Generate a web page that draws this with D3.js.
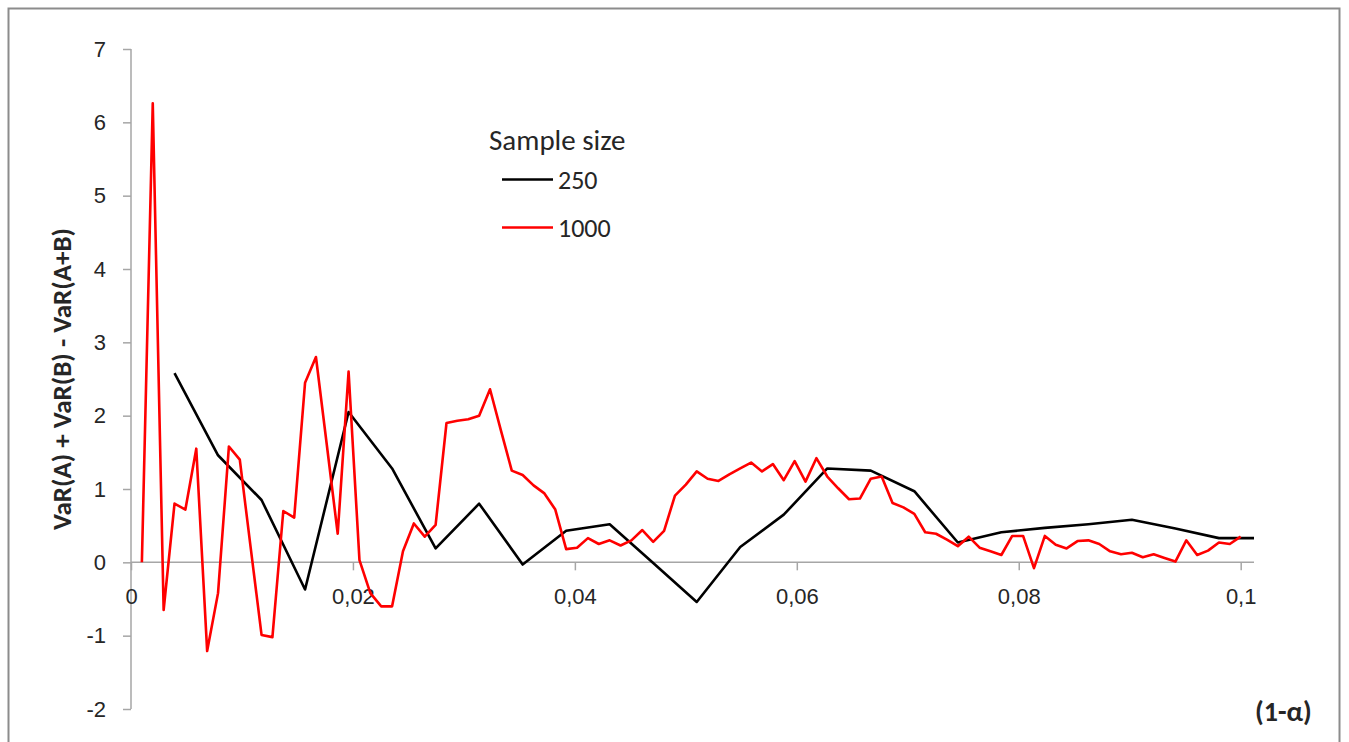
<!DOCTYPE html>
<html>
<head>
<meta charset="utf-8">
<script src="https://cdn.jsdelivr.net/npm/d3@7.9.0/dist/d3.min.js"></script>
<style>
  html, body { margin: 0; padding: 0; background: #fff; }
  svg { display: block; font-family: Carlito, Calibri, Lato, sans-serif; }
</style>
</head>
<body>
<div id="chart"></div>
<script>
// ---------------- data ----------------
const seriesNames = ["250", "1000"];
const seriesColors = ["#000000", "#ff0000"];
const legendTitle = "Sample size";
const yTitle = "VaR(A) + VaR(B) - VaR(A+B)";
const xTitle = "(1-α)";

const xTicks = [0, 0.02, 0.04, 0.06, 0.08, 0.1];
const yTicks = [-2, -1, 0, 1, 2, 3, 4, 5, 6, 7];

// sample size 250: one point per quantile level k/255
const values250 = [
  2.58, 1.46, 0.85, -0.37, 2.05, 1.28, 0.19, 0.80, -0.03, 0.43,
  0.52, -0.01, -0.54, 0.21, 0.65, 1.28, 1.25, 0.97, 0.27, 0.41,
  0.47, 0.52, 0.58, 0.46, 0.33, 0.33
];

// sample size 1000: one point per quantile level k/1020
const values1000 = [
  0.00, 6.26, -0.65, 0.80, 0.72, 1.55, -1.21, -0.42, 1.58, 1.40,
  0.20, -0.99, -1.02, 0.70, 0.61, 2.45, 2.80, 1.60, 0.39, 2.60,
  0.03, -0.42, -0.60, -0.60, 0.15, 0.53, 0.35, 0.51, 1.90, 1.93,
  1.95, 2.00, 2.36, 1.80, 1.25, 1.19, 1.05, 0.94, 0.72, 0.18,
  0.20, 0.33, 0.25, 0.30, 0.23, 0.30, 0.44, 0.28, 0.43, 0.91,
  1.06, 1.24, 1.14, 1.11, 1.20, 1.28, 1.36, 1.24, 1.34, 1.12,
  1.38, 1.10, 1.42, 1.17, 1.01, 0.86, 0.87, 1.14, 1.17, 0.81,
  0.75, 0.66, 0.41, 0.39, 0.31, 0.22, 0.35, 0.20, 0.15, 0.10,
  0.36, 0.36, -0.08, 0.36, 0.24, 0.19, 0.29, 0.30, 0.25, 0.15,
  0.11, 0.13, 0.07, 0.11, 0.06, 0.01, 0.30, 0.10, 0.16, 0.27,
  0.25, 0.35
];

const series = [
  { name: seriesNames[0], color: seriesColors[0], points: values250.map((v, i) => [(i + 1) / 255, v]) },
  { name: seriesNames[1], color: seriesColors[1], points: values1000.map((v, i) => [(i + 1) / 1020, v]) }
];

// ---------------- layout ----------------
const width = 1349, height = 742;
const plot = { left: 131, right: 1254, top: 49, bottom: 709 };
const axisColor = "#a6a6a6";
const textColor = "#262626";

const svg = d3.select("#chart").append("svg")
  .attr("width", width).attr("height", height);

svg.append("rect").attr("width", width).attr("height", height).attr("fill", "#fff");

// chart frame
svg.append("rect")
  .attr("x", 8.5).attr("y", 8.5)
  .attr("width", 1331).attr("height", 760)
  .attr("fill", "none").attr("stroke", "#8c8c8c").attr("stroke-width", 2);

const x = d3.scaleLinear().domain([0, 0.1012]).range([plot.left, plot.right]);
const y = d3.scaleLinear().domain([-2, 7]).range([plot.bottom, plot.top]);

const fmt = d => d === 0 ? "0" : String(+d.toFixed(2)).replace(".", ",");

// ---------------- axes ----------------
const yAxis = svg.append("g")
  .attr("transform", `translate(${plot.left},0)`)
  .call(d3.axisLeft(y).tickValues(yTicks).tickFormat(d => String(d)).tickSize(8).tickPadding(17));

const xAxis = svg.append("g")
  .attr("transform", `translate(0,${y(0)})`)
  .call(d3.axisBottom(x).tickValues(xTicks).tickFormat(fmt).tickSize(8).tickPadding(18));

[yAxis, xAxis].forEach(g => {
  g.select(".domain").attr("stroke", axisColor).attr("stroke-width", 1.5);
  g.selectAll(".tick line").attr("stroke", axisColor).attr("stroke-width", 1.5);
  g.selectAll(".tick text").attr("fill", textColor).attr("font-size", "22px");
});
xAxis.select(".domain").attr("d", `M${plot.left},0H${plot.right}`);
yAxis.select(".domain").attr("d", `M0,${plot.top}V${plot.bottom}`);

// ---------------- lines ----------------
svg.append("clipPath").attr("id", "plot-clip")
  .append("rect")
  .attr("x", plot.left).attr("y", 0)
  .attr("width", plot.right - plot.left).attr("height", height);

const line = d3.line().x(d => x(d[0])).y(d => y(d[1]));

svg.append("g").attr("clip-path", "url(#plot-clip)")
  .selectAll("path").data(series).enter().append("path")
  .attr("d", d => line(d.points))
  .attr("fill", "none")
  .attr("stroke", d => d.color)
  .attr("stroke-width", 2.6)
  .attr("stroke-linejoin", "round");

// ---------------- titles ----------------
svg.append("text")
  .attr("transform", `translate(71,${(plot.top + plot.bottom) / 2}) rotate(-90)`)
  .attr("text-anchor", "middle")
  .attr("font-size", "27px").attr("font-weight", "bold")
  .attr("fill", textColor)
  .text(yTitle);

svg.append("text")
  .attr("x", 1255).attr("y", 721)
  .attr("font-size", "28px").attr("font-weight", "bold")
  .attr("fill", textColor)
  .text(xTitle);

// ---------------- legend ----------------
const legend = svg.append("g");
legend.append("text")
  .attr("x", 489).attr("y", 150)
  .attr("font-size", "29px").attr("fill", textColor)
  .text(legendTitle);

series.forEach((s, i) => {
  const ly = 179.5 + i * 48;
  legend.append("line")
    .attr("x1", 502).attr("x2", 553).attr("y1", ly).attr("y2", ly)
    .attr("stroke", s.color).attr("stroke-width", 2.6);
  legend.append("text")
    .attr("x", 558).attr("y", ly + 9)
    .attr("font-size", "26px").attr("fill", textColor)
    .text(s.name);
});
</script>
</body>
</html>
